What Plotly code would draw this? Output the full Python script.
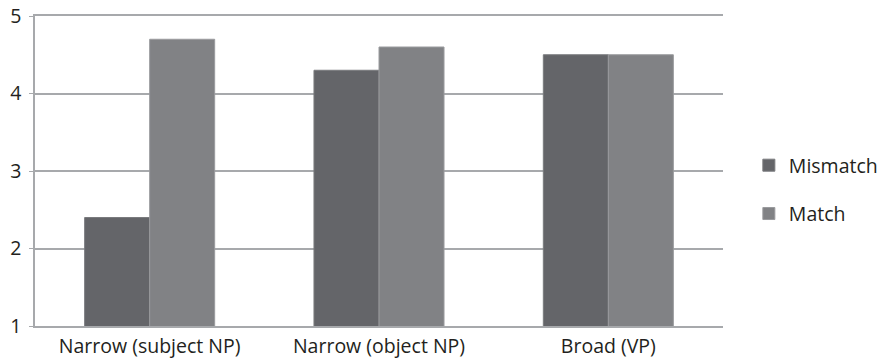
import plotly.graph_objects as go

categories = ["Narrow (subject NP)", "Narrow (object NP)", "Broad (VP)"]
mismatch = [2.4, 4.3, 4.5]
match = [4.7, 4.6, 4.5]
y_ticks = [1, 2, 3, 4, 5]

font_family = "'Open Sans', sans-serif"
grid_col = "#a7a9ac"

fig = go.Figure()
fig.add_trace(go.Bar(x=categories, y=mismatch, name="Mismatch", legendgroup="a",
                     marker=dict(color="#646569", line=dict(color="#7a7b7e", width=1))))
fig.add_trace(go.Bar(x=categories, y=match, name="Match", legendgroup="b",
                     marker=dict(color="#818285", line=dict(color="#9a9b9e", width=1))))

fig.update_layout(
    width=881, height=360,
    margin=dict(l=35, r=158, t=16, b=34),
    paper_bgcolor="white", plot_bgcolor="white",
    barmode="group", bargap=0.433, bargroupgap=0,
    font=dict(family=font_family, size=19.5, color="#231f20"),
    legend=dict(xref="container", yref="container", x=0.850, y=0.4736,
                xanchor="left", yanchor="middle",
                font=dict(size=19.5), tracegroupgap=20, itemwidth=30),
    showlegend=True,
)
fig.update_yaxes(range=[1, 5], tickvals=y_ticks, showgrid=True, gridcolor=grid_col, gridwidth=1.5,
                 showline=True, linecolor=grid_col, linewidth=1.5, automargin=False,
                 ticks="outside", ticklen=4, tickcolor=grid_col, zeroline=False,
                 ticklabelstandoff=4)
fig.update_xaxes(showgrid=False, showline=True, mirror=True, linecolor=grid_col, linewidth=1.5,
                 ticks="", automargin=False, ticklabelstandoff=2)

fig.write_html("out.html", config={"displayModeBar": False},
               post_script="document.body.style.margin='0';")
